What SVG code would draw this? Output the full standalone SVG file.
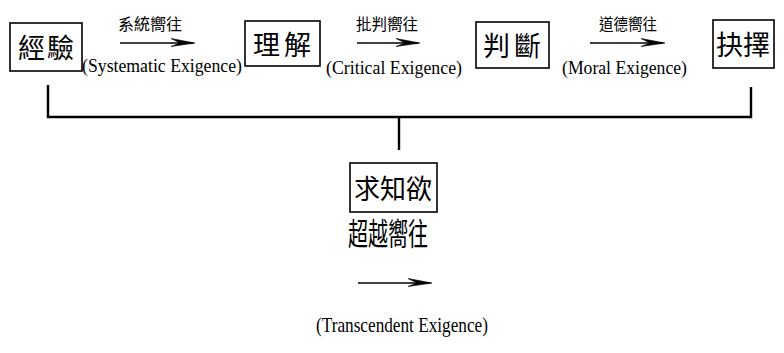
<svg xmlns="http://www.w3.org/2000/svg" width="784" height="353" viewBox="0 0 784 353">
<style>
.box{fill:#fff;stroke:#000;stroke-width:1.6}
.cjk{font-family:"Noto Sans CJK TC","Noto Sans CJK SC",sans-serif;fill:#000}
.en{font-family:"Liberation Serif",serif;fill:#000}
.ln{fill:none;stroke:#000;stroke-width:2.4}
.ar{fill:none;stroke:#000;stroke-width:1.4}
.hd{fill:#000;stroke:#000;stroke-width:0.6;stroke-linejoin:miter}
</style>
<rect width="784" height="353" fill="#fff"/>
<g id="connectors">
<path class="ln" d="M48,85 V117 H751 V87"/>
<path class="ln" d="M399,117 V150"/>
<line class="ar" x1="120" y1="43" x2="193" y2="43"/>
<path class="hd" d="M171,38.5 L195,43 L171,46.5 L180,43 Z"/>
<line class="ar" x1="357" y1="43" x2="418" y2="43"/>
<path class="hd" d="M396,38.5 L420,43 L396,46.5 L405,43 Z"/>
<line class="ar" x1="590" y1="43" x2="663" y2="43"/>
<path class="hd" d="M641,38.5 L665,43 L641,46.5 L650,43 Z"/>
<line class="ar" x1="358" y1="283" x2="430" y2="283"/>
<path class="hd" d="M408,278.5 L432,283 L408,286.5 L417,283 Z"/>
<text class="cjk" x="150" y="30" font-size="16" text-anchor="middle" textLength="64" lengthAdjust="spacingAndGlyphs">系統嚮往</text>
<text class="en" x="82" y="72" font-size="18" textLength="160" lengthAdjust="spacingAndGlyphs">(Systematic Exigence)</text>
<text class="cjk" x="387" y="30" font-size="16" text-anchor="middle" textLength="62" lengthAdjust="spacingAndGlyphs">批判嚮往</text>
<text class="en" x="326" y="74" font-size="18" textLength="136" lengthAdjust="spacingAndGlyphs">(Critical Exigence)</text>
<text class="cjk" x="628" y="30" font-size="16" text-anchor="middle" textLength="58" lengthAdjust="spacingAndGlyphs">道德嚮往</text>
<text class="en" x="562" y="74" font-size="18" textLength="125" lengthAdjust="spacingAndGlyphs">(Moral Exigence)</text>
<text class="cjk" x="388" y="245" font-size="31" text-anchor="middle" textLength="80" lengthAdjust="spacingAndGlyphs">超越嚮往</text>
<text class="en" x="402" y="332" font-size="21" text-anchor="middle" textLength="172" lengthAdjust="spacingAndGlyphs">(Transcendent Exigence)</text>
</g>
<g id="n1">
<rect class="box" x="10" y="23" width="72" height="48"/>
<text class="cjk" x="46" y="58" font-size="27" text-anchor="middle" textLength="56" lengthAdjust="spacing">經驗</text>
</g>
<g id="n2">
<rect class="box" x="245" y="21" width="75" height="45"/>
<text class="cjk" x="282" y="55" font-size="27" text-anchor="middle" textLength="58" lengthAdjust="spacing">理解</text>
</g>
<g id="n3">
<rect class="box" x="476" y="22" width="73" height="46"/>
<text class="cjk" x="512" y="56" font-size="27" text-anchor="middle" textLength="58" lengthAdjust="spacing">判斷</text>
</g>
<g id="n4">
<rect class="box" x="713" y="20" width="61" height="48"/>
<text class="cjk" x="743" y="55" font-size="27" text-anchor="middle" textLength="54" lengthAdjust="spacing">抉擇</text>
</g>
<g id="n5">
<rect class="box" x="350" y="163" width="87" height="49"/>
<text class="cjk" x="393" y="199" font-size="27" text-anchor="middle" textLength="78" lengthAdjust="spacingAndGlyphs">求知欲</text>
</g>
</svg>
